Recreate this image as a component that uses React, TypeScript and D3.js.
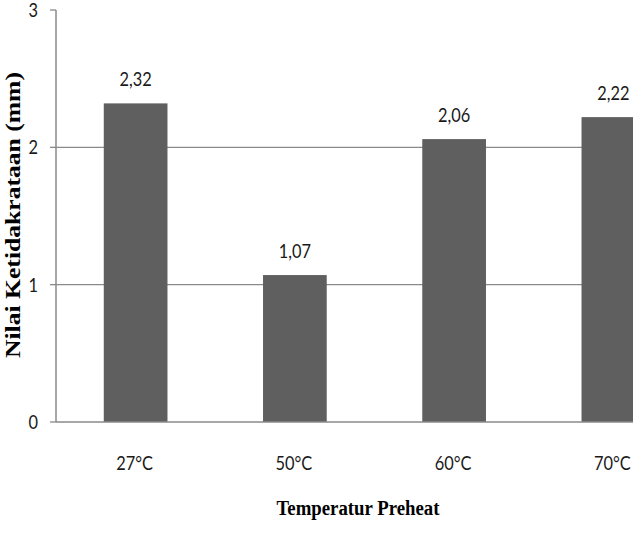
import React from 'react'
import * as d3 from 'd3'

const categories = ['27°C', '50°C', '60°C', '70°C']
const values = [2.32, 1.07, 2.06, 2.22]
const valueLabels = ['2,32', '1,07', '2,06', '2,22']
const yTicks = [0, 1, 2, 3]

const W = 642
const H = 554
const left = 56
const top = 10
const bottom = 422
const clipRight = 633

const labelFont = "Lato, 'DejaVu Sans Condensed', sans-serif"
const titleFont = "'Liberation Serif', 'DejaVu Serif', serif"

// narrow label, calibri-ish
function Label({ x, y, anchor, children }: { x: number, y: number, anchor: string, children: React.ReactNode }) {
  return (
    <text transform={`translate(${x},${y}) scale(0.82,1)`} textAnchor={anchor} fontFamily={labelFont} fontSize={20} fill="#1a1a1a">
      {children}
    </text>
  )
}

export default function App() {
  const x = d3.scaleBand<string>()
    .domain(categories)
    .range([left, left + 637])
    .paddingInner(0.6)
    .paddingOuter(0.3)

  const y = d3.scaleLinear().domain([0, 3]).range([bottom, top])

  return (
    <div style={{ position: 'absolute', left: 0, top: 0 }}>
      <svg width={W} height={H} style={{ display: 'block', background: '#fff' }}>
        <defs>
          <clipPath id="plotClip">
            <rect x={0} y={0} width={clipRight} height={H} />
          </clipPath>
        </defs>

        <g clipPath="url(#plotClip)">
          {/* gridlines */}
          {yTicks.filter(t => t > 0 && t < 3).map(t => (
            <line key={t} x1={left} x2={clipRight} y1={y(t)} y2={y(t)} stroke="#8a8a8a" strokeWidth={1.3} />
          ))}

          {/* bars */}
          {categories.map((c, i) => (
            <rect key={c} x={x(c)} y={y(values[i])} width={x.bandwidth()} height={bottom - y(values[i])} fill="#5f5f5f" />
          ))}

          {/* baseline */}
          <line x1={left} x2={clipRight} y1={bottom} y2={bottom} stroke="#8a8a8a" strokeWidth={1.5} />
        </g>

        {/* y axis */}
        <line x1={left} x2={left} y1={top} y2={bottom} stroke="#8a8a8a" strokeWidth={1.5} />
        {yTicks.map(t => (
          <g key={t}>
            <line x1={left - 6} x2={left} y1={y(t)} y2={y(t)} stroke="#8a8a8a" strokeWidth={1.3} />
            <Label x={38} y={y(t) + 7} anchor="end">{t}</Label>
          </g>
        ))}

        {/* value labels */}
        {categories.map((c, i) => (
          <Label key={c} x={x(c)! + x.bandwidth() / 2} y={y(values[i]) - 17} anchor="middle">
            {valueLabels[i]}
          </Label>
        ))}

        {/* category labels */}
        {categories.map(c => (
          <Label key={c} x={x(c)! + x.bandwidth() / 2 - 1} y={470} anchor="middle">
            {c}
          </Label>
        ))}

        {/* axis titles */}
        <text x={358} y={515} textAnchor="middle" fontFamily={titleFont} fontWeight="bold" fontSize={20}
          textLength={163} lengthAdjust="spacingAndGlyphs" fill="#000">
          Temperatur Preheat
        </text>
        <text transform="translate(20,215) rotate(-90)" textAnchor="middle" fontFamily={titleFont} fontWeight="bold" fontSize={22}
          textLength={286} lengthAdjust="spacingAndGlyphs" fill="#000">
          Nilai Ketidakrataan (mm)
        </text>
      </svg>
    </div>
  )
}
